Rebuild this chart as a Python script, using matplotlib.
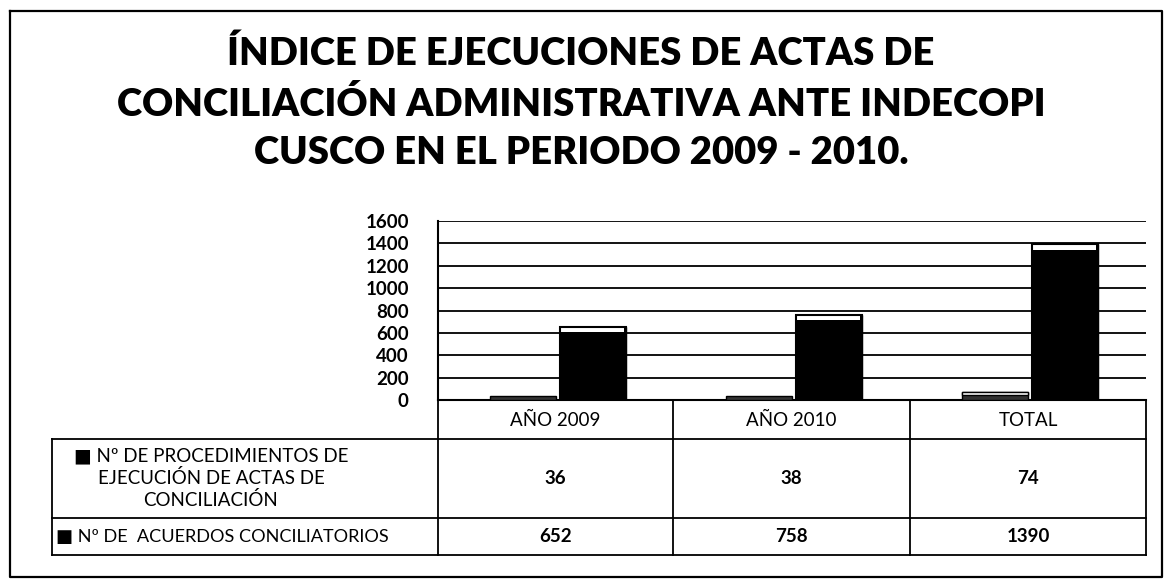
import matplotlib
matplotlib.use("Agg")
import matplotlib.pyplot as plt

# ---- data ----
categories = ["AÑO 2009", "AÑO 2010", "TOTAL"]
series_names = ["Nº DE PROCEDIMIENTOS DE\nEJECUCIÓN DE ACTAS DE\nCONCILIACIÓN",
                "Nº DE  ACUERDOS CONCILIATORIOS"]
procedimientos = [36, 38, 74]
acuerdos = [652, 758, 1390]
yticks = [0, 200, 400, 600, 800, 1000, 1200, 1400, 1600]
title = "ÍNDICE DE EJECUCIONES DE ACTAS DE\nCONCILIACIÓN ADMINISTRATIVA ANTE INDECOPI\nCUSCO EN EL PERIODO 2009 - 2010."

W, H = 1164, 581
plt.rcParams['font.family'] = ['Lato', 'DejaVu Sans']
fig = plt.figure(figsize=(W / 100, H / 100), dpi=100)

# overlay in pixel coordinates for frame, title and table
ov = fig.add_axes([0, 0, 1, 1])
ov.set_xlim(0, W)
ov.set_ylim(H, 0)
ov.axis("off")

# outer frame
ov.plot([10, 1162, 1162, 10, 10], [11, 11, 577, 577, 11], color="black", lw=1.6)

# title
ov.text(581, 103, title, ha="center", va="center", fontsize=27.5, fontweight="heavy",
        linespacing=1.5)

# chart axes
px_left, px_right, px_top, px_bottom = 438, 1146, 221, 400
ax = fig.add_axes([px_left / W, 1 - px_bottom / H, (px_right - px_left) / W,
                   (px_bottom - px_top) / H])
ax.set_zorder(2)
ax.patch.set_alpha(0)
n = len(categories)
xs = list(range(n))
ax.set_xlim(-0.5, n - 0.5)
ax.set_ylim(0, 1600)
ax.set_yticks(yticks)
ax.set_yticklabels([str(t) for t in yticks], fontsize=13.5, fontweight="bold")
ax.tick_params(axis="y", length=0, pad=21)
ax.set_xticks([])
for s in ["top", "right"]:
    ax.spines[s].set_visible(False)
ax.spines["left"].set_linewidth(1.5)
ax.spines["bottom"].set_linewidth(1.5)
ax.grid(axis="y", color="black", lw=1.3)
ax.set_axisbelow(True)

bw = 0.28
off1, off2 = -0.14, 0.155
cap = 45
for i, x in enumerate(xs):
    v1 = procedimientos[i]
    v2 = acuerdos[i]
    ax.bar(x + off1, v1, bw, color="#333333", edgecolor="black", lw=1, zorder=3)
    if v1 > cap:
        ax.bar(x + off1, cap * 0.6, bw, bottom=v1 - cap * 0.6, color="white",
               edgecolor="black", lw=1, zorder=4)
    ax.bar(x + off2, v2, bw, color="black", edgecolor="black", lw=1, zorder=3)
    ax.bar(x + off2, cap, bw * 0.96, bottom=v2 - cap, color="white",
           edgecolor="none", lw=0, zorder=4)
    ax.bar(x + off2, v2, bw, color="none", edgecolor="black", lw=1.5, zorder=5)

# table
col_edges = [438, 673, 910, 1146]
row_edges = [400, 439, 518, 555]
lab_left = 52
lw = 1.3
ov.plot([438, 1146], [400, 400], color="black", lw=lw)
for y in row_edges[1:]:
    ov.plot([lab_left, 1146], [y, y], color="black", lw=lw)
for xe in col_edges:
    ov.plot([xe, xe], [400, 555], color="black", lw=lw)
ov.plot([lab_left, lab_left], [439, 555], color="black", lw=lw)

fs = 13.5
for j, c in enumerate(categories):
    cx = (col_edges[j] + col_edges[j + 1]) / 2
    ov.text(cx, (row_edges[0] + row_edges[1]) / 2 + 1, c, ha="center", va="center",
            fontsize=fs)
    ov.text(cx, (row_edges[1] + row_edges[2]) / 2, str(procedimientos[j]),
            ha="center", va="center", fontsize=fs, fontweight="bold")
    ov.text(cx, (row_edges[2] + row_edges[3]) / 2, str(acuerdos[j]),
            ha="center", va="center", fontsize=fs, fontweight="bold")

# row labels with legend keys (■ as real text)
ov.text(211, (row_edges[1] + row_edges[2]) / 2, "■ " + series_names[0], ha="center",
        va="center", fontsize=fs, linespacing=1.3,
        family=['Lato', 'DejaVu Sans'])
ov.text(56, (row_edges[2] + row_edges[3]) / 2, "■ " + series_names[1], ha="left",
        va="center", fontsize=fs * 0.97, family=['Lato', 'DejaVu Sans'])

fig.savefig("out.png", dpi=100)
